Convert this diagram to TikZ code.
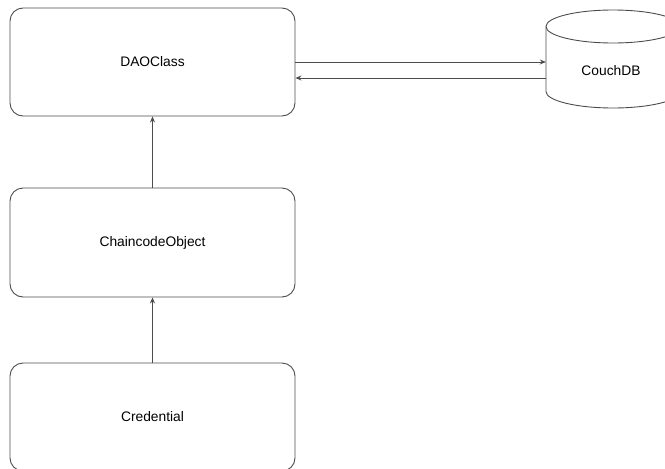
\documentclass[tikz,border=0pt]{standalone}
\usepackage{fontspec}
\setmainfont{Liberation Sans}
\usetikzlibrary{arrows.meta}
\definecolor{linegray}{gray}{0.3}
\begin{document}
\begin{tikzpicture}[x=1pt,y=-1pt,
  label font/.style={font=\fontsize{13.8}{16}\selectfont},
  box/.style={draw=linegray, line width=0.9pt, rounded corners=13pt,
    minimum width=285pt, minimum height=108pt, inner sep=0pt, label font},
  dbshape/.style={draw=linegray, line width=0.9pt},
  link/.style={draw=linegray, line width=0.9pt, -{Stealth[length=6pt,width=5pt]}}]
\useasboundingbox (0,0) rectangle (665,469);

% class boxes
\node[box] (dao)  at (152.5,62)  {DAOClass};
\node[box, minimum height=109pt] (cc) at (152.5,242.5) {ChaincodeObject};
\node[box] (cred) at (152.5,417) {Credential};

% database cylinder
\draw[dbshape] (546,26.5) -- (546,91.5)
  arc[start angle=180, end angle=360, x radius=67pt, y radius=16.5pt]
  -- (680,26.5);
\draw[dbshape] (613,26.5) ellipse [x radius=67pt, y radius=16.5pt];
\node[minimum width=134pt, minimum height=98pt, inner sep=0pt] (db) at (613,59) {};
\node[label font] (dblabel) at (611,71) {CouchDB};

% connectors
\draw[link] (dao.east) -- (dao.east -| db.west);
\draw[link] ([yshift=-16pt]dao.east -| db.west) -- ([yshift=-16pt]dao.east);
\draw[link] (cc.north) -- (dao.south);
\draw[link] (cred.north) -- (cc.south);
\end{tikzpicture}
\end{document}
